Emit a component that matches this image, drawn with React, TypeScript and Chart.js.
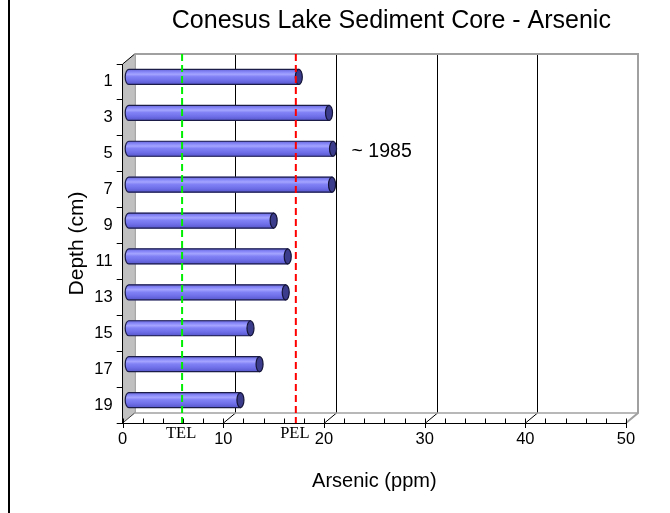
import React, { useEffect, useRef } from 'react';
import { Chart, registerables } from 'chart.js';

Chart.register(...registerables);

// ---------- data ----------
const depthLabels = ['1', '3', '5', '7', '9', '11', '13', '15', '17', '19'];
const arsenicPpm = [16.9, 19.9, 20.3, 20.2, 14.4, 15.8, 15.6, 12.1, 13.0, 11.1];
const xMin = 0;
const xMax = 50;
const xMajorStep = 10;
const xMinorStep = 2;
const thresholdNames = ['TEL', 'PEL'];
const thresholdValues = [5.9, 17.2];
const thresholdColors = ['#00ee00', '#ff0000'];
const annotationText = '~ 1985';
const annotationDepth = '5';
const chartTitle = 'Conesus Lake Sediment Core - Arsenic';
const xTitle = 'Arsenic (ppm)';
const yTitle = 'Depth (cm)';

// ---------- style ----------
const DX = 12;
const DY = -10;
const SANS = '"Liberation Sans", Arial, sans-serif';
const SERIF = '"Liberation Serif", "Times New Roman", serif';

const excel3d = {
  id: 'excel3d',
  beforeDraw(chart: any) {
    const { ctx, chartArea } = chart;
    const { left: L, right: R, top: T, bottom: B } = chartArea;
    const xs = chart.scales.x;
    ctx.save();
    ctx.fillStyle = '#ffffff';
    ctx.fillRect(0, 0, chart.width, chart.height);
    // outer frame line at left
    ctx.fillStyle = '#000000';
    ctx.fillRect(8, 0, 2, chart.height);

    // side wall
    ctx.beginPath();
    ctx.moveTo(L, T);
    ctx.lineTo(L + DX, T + DY);
    ctx.lineTo(L + DX, B + DY);
    ctx.lineTo(L, B);
    ctx.closePath();
    ctx.fillStyle = '#c0c0c0';
    ctx.fill();

    // back wall gridlines & floor diagonals
    ctx.lineWidth = 1;
    ctx.strokeStyle = '#000000';
    for (let v = xMin + xMajorStep; v < xMax; v += xMajorStep) {
      const px = Math.round(xs.getPixelForValue(v)) + 0.5;
      ctx.beginPath();
      ctx.moveTo(px + DX, T + DY);
      ctx.lineTo(px + DX, B + DY);
      ctx.stroke();
      ctx.beginPath();
      ctx.moveTo(px, B);
      ctx.lineTo(px + DX, B + DY);
      ctx.stroke();
    }
    // side wall edges
    ctx.strokeStyle = '#000000';
    ctx.beginPath();
    ctx.moveTo(L, T);
    ctx.lineTo(L + DX, T + DY);
    ctx.stroke();
    ctx.strokeStyle = '#404040';
    ctx.beginPath();
    ctx.moveTo(L, B);
    ctx.lineTo(L + DX, B + DY);
    ctx.stroke();
    ctx.strokeStyle = '#808080';
    ctx.beginPath();
    ctx.moveTo(L + DX + 0.5, T + DY);
    ctx.lineTo(L + DX + 0.5, B + DY);
    ctx.stroke();

    // back wall & floor outline (gray)
    ctx.strokeStyle = '#a0a0a0';
    ctx.lineWidth = 2;
    ctx.beginPath();
    ctx.moveTo(L + DX, T + DY);
    ctx.lineTo(R + DX, T + DY);
    ctx.lineTo(R + DX, B + DY);
    ctx.lineTo(R, B);
    ctx.stroke();
    ctx.lineWidth = 1.5;
    ctx.beginPath();
    ctx.moveTo(L + DX, B + DY);
    ctx.lineTo(R + DX, B + DY);
    ctx.stroke();

    // floor ticks
    ctx.strokeStyle = '#000000';
    ctx.lineWidth = 1;
    for (let v = xMin; v <= xMax + 1e-9; v += xMinorStep) {
      const px = Math.round(xs.getPixelForValue(v)) + 0.5;
      const major = Math.abs(v % xMajorStep) < 1e-9;
      ctx.beginPath();
      ctx.moveTo(px, B - 4.5);
      ctx.lineTo(px, major ? B + 5 : B);
      ctx.stroke();
    }
    ctx.restore();
  },
  beforeDatasetsDraw(chart: any) {
    chart.ctx.save();
    chart.ctx.translate(DX / 2, DY / 2);
  },
  afterDatasetsDraw(chart: any) {
    const { ctx } = chart;
    const meta = chart.getDatasetMeta(0);
    meta.data.forEach((el: any) => {
      const { x, y, base, height } = el.getProps(['x', 'y', 'base', 'height'], true);
      const h = height;
      const top = y - h / 2;
      const bot = y + h / 2;
      const rx = 3.5;
      const g = ctx.createLinearGradient(0, top, 0, bot);
      g.addColorStop(0, '#6868dc');
      g.addColorStop(0.18, '#8a8afa');
      g.addColorStop(0.32, '#a4a4ff');
      g.addColorStop(0.48, '#8282f6');
      g.addColorStop(0.75, '#6e6ee8');
      g.addColorStop(1, '#5656cc');
      ctx.beginPath();
      ctx.moveTo(x, top);
      ctx.lineTo(base, top);
      ctx.ellipse(base, y, rx, h / 2, 0, -Math.PI / 2, Math.PI / 2, true);
      ctx.lineTo(x, bot);
      ctx.closePath();
      ctx.fillStyle = g;
      ctx.fill();
      ctx.strokeStyle = '#1c1c48';
      ctx.lineWidth = 1.2;
      ctx.stroke();
      // end cap
      ctx.beginPath();
      ctx.ellipse(x, y, rx, h / 2, 0, 0, Math.PI * 2);
      ctx.fillStyle = '#3c3c8c';
      ctx.fill();
      ctx.strokeStyle = '#141438';
      ctx.lineWidth = 1.2;
      ctx.stroke();
    });
    ctx.restore();
  },
  afterDraw(chart: any) {
    const { ctx, chartArea } = chart;
    const { left: L, right: R, top: T, bottom: B } = chartArea;
    const xs = chart.scales.x;
    ctx.save();
    // threshold lines
    thresholdValues.forEach((v, i) => {
      const px = xs.getPixelForValue(v);
      ctx.strokeStyle = thresholdColors[i];
      ctx.lineWidth = 2;
      ctx.setLineDash([7, 4]);
      ctx.beginPath();
      ctx.moveTo(px, T + DY);
      ctx.lineTo(px, B);
      ctx.stroke();
      ctx.setLineDash([]);
      ctx.fillStyle = '#000000';
      ctx.font = `16.5px ${SERIF}`;
      ctx.textAlign = 'center';
      ctx.textBaseline = 'middle';
      ctx.fillText(thresholdNames[i], px - 1, B + 11);
    });
    // annotation
    const meta = chart.getDatasetMeta(0);
    const idx = depthLabels.indexOf(annotationDepth);
    const el: any = meta.data[idx];
    if (el) {
      ctx.fillStyle = '#000000';
      ctx.font = `19.5px ${SANS}`;
      ctx.textAlign = 'left';
      ctx.textBaseline = 'middle';
      ctx.fillText(annotationText, el.x + DX / 2 + 18.5, el.y + DY / 2 + 3);
    }
    // title
    ctx.fillStyle = '#000000';
    ctx.font = `25px ${SANS}`;
    ctx.textAlign = 'center';
    ctx.textBaseline = 'middle';
    ctx.fillText(chartTitle, (L + R) / 2 + 17, 21);
    ctx.restore();
  },
};

export default function App() {
  const ref = useRef<HTMLCanvasElement | null>(null);
  useEffect(() => {
    if (!ref.current) return;
    const chart = new Chart(ref.current, {
      type: 'bar',
      data: {
        labels: depthLabels,
        datasets: [
          {
            label: 'Arsenic',
            data: arsenicPpm,
            backgroundColor: '#7878ee',
            borderWidth: 0,
            barThickness: 15,
            clip: false as any,
          },
        ],
      },
      options: {
        indexAxis: 'y',
        animation: false,
        responsive: false,
        devicePixelRatio: 1,
        layout: { padding: { left: 0, right: 44, top: 64, bottom: 0 } },
        plugins: {
          legend: { display: false },
          title: { display: false },
          tooltip: { enabled: false },
        },
        scales: {
          x: {
            type: 'linear',
            min: xMin,
            max: xMax,
            afterFit: (s: any) => {
              s.height = 90;
            },
            ticks: {
              stepSize: xMajorStep,
              color: '#000000',
              padding: 6.6,
              font: { family: SANS, size: 16.5 },
              maxRotation: 0,
            },
            grid: { display: false, drawTicks: false },
            border: { display: true, color: '#000000', width: 1 },
            title: {
              display: true,
              text: xTitle,
              color: '#000000',
              font: { family: SANS, size: 20 },
              padding: { top: 0, bottom: 20 },
            },
          },
          y: {
            type: 'category',
            afterFit: (s: any) => {
              s.width = 122.7;
            },
            ticks: {
              color: '#000000',
              padding: 4,
              font: { family: SANS, size: 16.5 },
            },
            grid: {
              display: true,
              drawOnChartArea: false,
              drawTicks: true,
              tickLength: 6,
              color: '#000000',
              offset: true,
            },
            border: { display: true, color: '#000000', width: 1 },
            title: {
              display: true,
              text: yTitle,
              color: '#000000',
              font: { family: SANS, size: 21 },
              padding: { top: 65, bottom: 0 },
            },
          },
        },
      },
      plugins: [excel3d],
    } as any);
    return () => chart.destroy();
  }, []);
  return (
    <div style={{ position: 'absolute', left: 0, top: 0, width: 670, height: 513, background: '#fff' }}>
      <canvas ref={ref} width={670} height={513} style={{ display: 'block' }} />
    </div>
  );
}
